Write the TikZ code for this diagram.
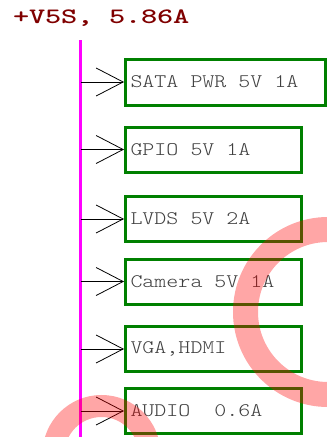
\documentclass[tikz,border=0pt]{standalone}
\usepackage{fontspec}
\usetikzlibrary{arrows.meta}
\newfontfamily\boxfont[FakeStretch=1.19]{lmmonolt10-regular.otf}
\newfontfamily\titlefont[FakeStretch=1.4]{lmmonolt10-bold.otf}
\definecolor{wine}{HTML}{800000}
\definecolor{boxgreen}{HTML}{008000}
\definecolor{rail}{HTML}{FF00FF}
\definecolor{txt}{HTML}{404040}
\definecolor{ringred}{HTML}{FF0000}
\newlength\cellw
\def\cellrow#1{\ifx#1\relax\else\makebox[\cellw][c]{#1}\expandafter\cellrow\fi}
\newcommand\monotext[2]{\setlength\cellw{#1}\cellrow#2\relax}
\tikzset{
  loadbox/.style={draw=boxgreen, line width=3pt, anchor=west, minimum height=45pt,
    inner xsep=5pt, inner ysep=0pt, align=left, text=txt,
    font=\boxfont\fontsize{19.2}{20}\selectfont},
  feed/.style={draw=black, line width=0.8pt,
    -{Straight Barb[length=27pt, width=28pt, line width=0.8pt]}},
  railline/.style={draw=rail, line width=3pt},
  ring/.style={draw=ringred, opacity=0.35},
}
\begin{document}
\begin{tikzpicture}[x=1pt,y=-1pt]
\clip (0,0) rectangle (327,437);
\fill[white] (0,0) rectangle (327,437);
\node[anchor=base west, inner sep=0pt, text=wine, font=\titlefont\fontsize{22}{22}\selectfont] (title) at (13,23.5) {\monotext{16pt}{+V5S,~5.86A}};
\coordinate (railtop) at (80.5,40);
\coordinate (railbot) at (80.5,437);
\draw[railline] (railtop) -- (railbot);
\node[loadbox, text width=190pt, minimum height=46pt] (sata) at (124,82) {\monotext{12pt}{SATA~PWR~5V~1A}};
\node[loadbox, text width=166pt] (gpio) at (124,149.5) {\monotext{12pt}{GPIO~5V~1A}};
\node[loadbox, text width=166pt] (lvds) at (124,219) {\monotext{12pt}{LVDS~5V~2A}};
\node[loadbox, text width=166pt] (cam) at (124,281.5) {\monotext{12pt}{Camera~5V~1A}};
\node[loadbox, text width=166pt] (vga) at (124,349) {\monotext{12pt}{VGA,HDMI}};
\node[loadbox, text width=166pt] (audio) at (124,411) {\monotext{12pt}{AUDIO~~0.6A}};
\coordinate (r1) at (80.5,82);
\coordinate (r2) at (80.5,149.5);
\coordinate (r3) at (80.5,219);
\coordinate (r4) at (80.5,281.5);
\coordinate (r5) at (80.5,349);
\coordinate (r6) at (80.5,411);
\draw[feed] (r1) -- (sata.west);
\draw[feed] (r2) -- (gpio.west);
\draw[feed] (r3) -- (lvds.west);
\draw[feed] (r4) -- (cam.west);
\draw[feed] (r5) -- (vga.west);
\draw[feed] (r6) -- (audio.west);
\draw[ring, line width=25pt] (328,312) circle[radius=82.5pt];
\draw[ring, line width=22pt] (101.5,454) circle[radius=48pt];
\end{tikzpicture}
\end{document}
